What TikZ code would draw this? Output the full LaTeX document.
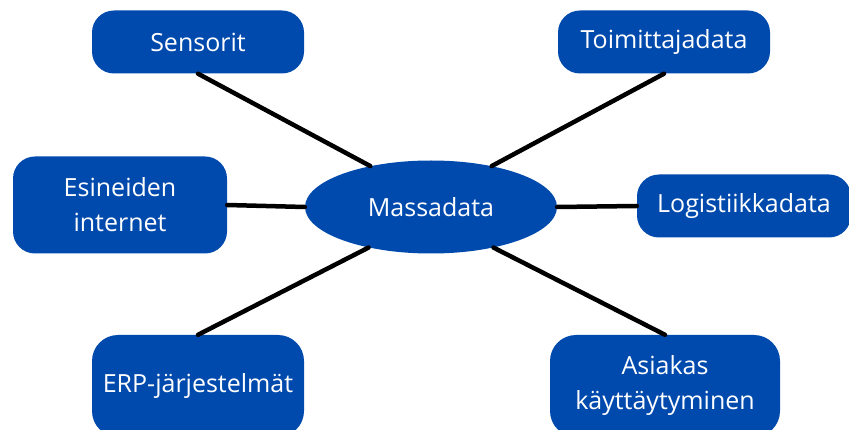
\documentclass[tikz,border=0pt]{standalone}
\usepackage{fontspec}
\setmainfont{Open Sans}
\usepackage{tikz}
\usetikzlibrary{shapes.geometric}
\definecolor{MassBlue}{HTML}{004AAD}

\begin{document}
\begin{tikzpicture}[
  x=1pt,
  y=-1pt,
  font=\fontsize{25}{35}\selectfont,
  topicbox/.style={fill=MassBlue, text=white, align=center, rounded corners=22pt, inner sep=0pt},
  hubnode/.style={ellipse, fill=MassBlue, text=white, minimum width=252pt, minimum height=93pt, inner sep=0pt},
  link/.style={line width=4.5pt, line cap=round, black}
]
\useasboundingbox (0,0) rectangle (849,430);
\clip (0,0) rectangle (849,430);
\node[hubnode] (hub) at (431,207) {Massadata};
\node[topicbox, minimum width=212pt, minimum height=63pt] (sens) at (198,42) {Sensorit};
\node[topicbox, minimum width=212pt, minimum height=63pt] (toim) at (664,42) {Toimittajadata};
\node[topicbox, minimum width=214pt, minimum height=97pt] (iot) at (120,205) {Esineiden\\internet};
\node[topicbox, minimum width=214pt, minimum height=63pt] (logi) at (744,206) {Logistiikkadata};
\node[topicbox, minimum width=212pt, minimum height=102pt, rounded corners=26pt] (erp) at (198,386) {ERP-järjestelmät};
\node[topicbox, minimum width=230pt, minimum height=102pt, rounded corners=26pt] (asia) at (665,386) {Asiakas\\käyttäytyminen};
% connectors to the hub
\draw[link] (sens.south) -- (hub.146);
\draw[link] (toim.south) -- (hub.34);
\draw[link] (iot.east) -- (hub.west);
\draw[link] (logi.west) -- (hub.east);
\draw[link] (erp.north) -- (hub.213);
\draw[link] (asia.north) -- (hub.327);
\end{tikzpicture}
\end{document}
